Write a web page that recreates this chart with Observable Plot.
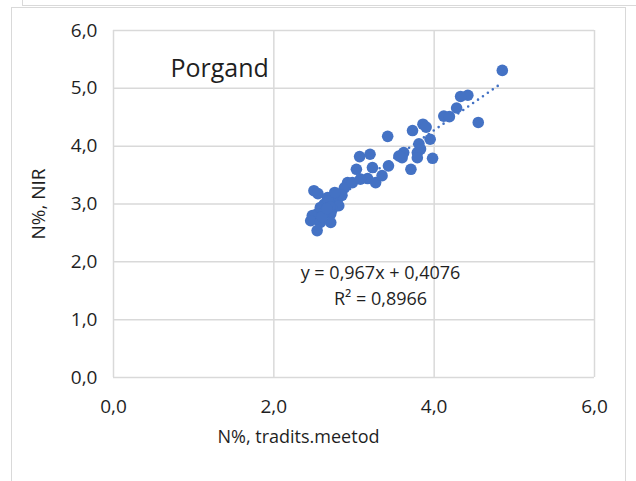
<!DOCTYPE html>
<html>
<head>
<meta charset="utf-8">
<script src="https://cdn.jsdelivr.net/npm/d3@7"></script>
<script src="https://cdn.jsdelivr.net/npm/@observablehq/plot@0.6"></script>
<style>
  html, body { margin: 0; padding: 0; background: #fff; }
  #wrap { position: relative; width: 636px; height: 481px; overflow: hidden; }
  #wrap svg { position: absolute; left: 0; top: 0; }
  .box { position: absolute; border: 1.5px solid #d9d9d9; box-sizing: border-box; pointer-events: none; }
</style>
</head>
<body>
<div id="wrap">
  <div class="box" style="left:22px; top:-4px; width:640px; height:10px;"></div>
  <div class="box" style="left:11px; top:7px; width:615px; height:500px;"></div>
</div>
<script>
// Nitrogen content: traditional method (x) vs NIR (y), "Porgand" samples
const tradits = [
  4.85, 4.42, 4.33, 4.28, 4.12, 4.19, 4.55, 3.73, 3.86, 3.90,
  3.95, 3.81, 3.79, 3.83, 3.62, 3.98, 3.79, 3.60, 3.56, 3.42,
  3.07, 3.20, 3.23, 3.03, 3.43, 3.71, 2.92, 3.17, 3.27, 3.35,
  2.88, 2.98, 3.08, 2.50, 2.55, 2.75, 2.67, 2.79, 2.63, 2.81,
  2.58, 2.73, 2.54, 2.48, 2.71, 2.63, 2.46, 2.58, 2.71, 2.54,
  2.68, 2.85, 2.70, 2.76, 2.60, 2.66
];
const nir = [
  5.31, 4.88, 4.86, 4.66, 4.52, 4.51, 4.41, 4.27, 4.38, 4.33,
  4.12, 4.04, 3.89, 3.95, 3.89, 3.79, 3.80, 3.80, 3.83, 4.17,
  3.82, 3.86, 3.63, 3.60, 3.66, 3.60, 3.37, 3.44, 3.37, 3.49,
  3.28, 3.37, 3.43, 3.23, 3.18, 3.14, 3.11, 3.06, 3.00, 2.97,
  2.94, 2.91, 2.83, 2.80, 2.83, 2.86, 2.71, 2.68, 2.68, 2.54,
  3.05, 3.15, 2.95, 3.20, 2.78, 2.92
];

// Linear trend line and its fit statistics
const slope = 0.967;
const intercept = 0.4076;
const rSquared = 0.8966;

const xTicks = [0, 2, 4, 6];
const yTicks = [0, 1, 2, 3, 4, 5, 6];
const panelTitle = "Porgand";
const xTitle = "N%, tradits.meetod";
const yTitle = "N%, NIR";

const comma = (v, digits) => v.toFixed(digits).replace(".", ",");
const fmtTick = (d) => comma(d, 1);

const points = tradits.map((x, i) => ({x, y: nir[i]}));
const [xMin, xMax] = d3.extent(tradits);
const trend = [xMin, xMax].map((x) => ({x, y: slope * x + intercept}));

const equation = `y = ${comma(slope, 3)}x + ${comma(intercept, 4)}\nR² = ${comma(rSquared, 4)}`;

const blue = "#4472C4";
const ink = "#1f1f1f";
const grid = {stroke: "#d9d9d9", strokeOpacity: 1, strokeWidth: 1.5};

const chart = Plot.plot({
  width: 636,
  height: 481,
  marginLeft: 113,
  marginRight: 42,
  marginTop: 30,
  marginBottom: 104,
  x: {domain: [0, 6]},
  y: {domain: [0, 6]},
  style: {fontFamily: "Open Sans", fontSize: "18px", color: ink, background: "transparent"},
  marks: [
    Plot.gridX(xTicks, grid),
    Plot.gridY(yTicks, grid),
    Plot.axisX(xTicks, {
      tickSize: 0, tickPadding: 22, tickFormat: fmtTick, fontSize: 19, label: null
    }),
    Plot.axisY(yTicks, {
      tickSize: 0, tickPadding: 16, tickFormat: fmtTick, fontSize: 19,
      label: yTitle, labelAnchor: "center", labelOffset: 82, labelArrow: "none"
    }),
    // x-axis title, centred under the chart area rather than the plot frame
    Plot.text([xTitle], {
      frameAnchor: "bottom-left", dx: 185, dy: 60, textAnchor: "middle",
      lineAnchor: "middle", fontSize: 18, fill: ink
    }),
    Plot.line(trend, {
      x: "x", y: "y", stroke: blue, strokeWidth: 2.6,
      strokeDasharray: "0,6", strokeLinecap: "round"
    }),
    Plot.dot(points, {x: "x", y: "y", r: 5.8, fill: blue}),
    Plot.text([panelTitle], {
      frameAnchor: "top-left", dx: 57, dy: 38, textAnchor: "start",
      lineAnchor: "middle", fontSize: 25, fill: ink
    }),
    Plot.text([equation], {
      frameAnchor: "top-left", dx: 267, dy: 230, textAnchor: "middle",
      lineAnchor: "top", lineHeight: 1.45, fontSize: 18, fill: ink
    })
  ]
});

document.getElementById("wrap").prepend(chart);
</script>
</body>
</html>
